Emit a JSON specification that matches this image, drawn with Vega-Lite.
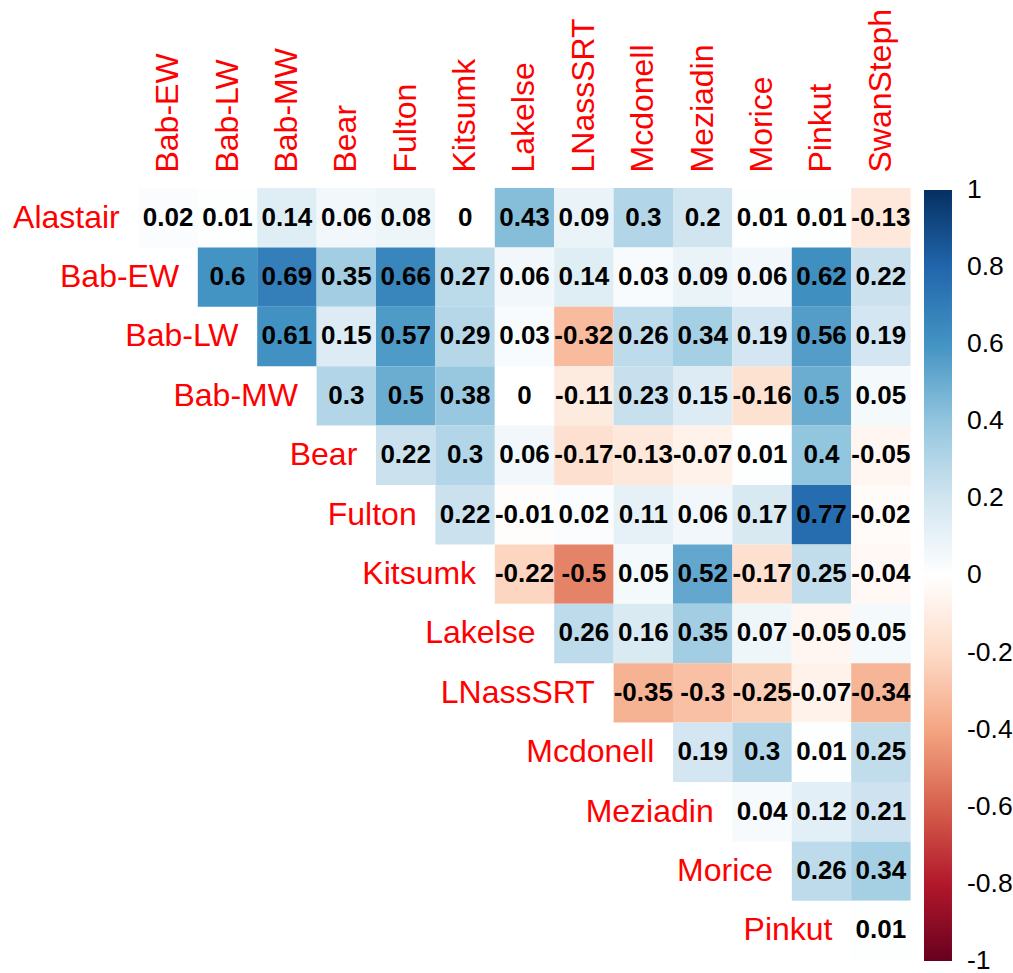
{
  "$schema": "https://vega.github.io/schema/vega-lite/v6.json",
  "width": 831.6,
  "height": 772.2,
  "autosize": {"type": "none"},
  "padding": {"left": 79, "top": 188, "right": 102, "bottom": 13},
  "background": "white",
  "config": {
    "view": {"stroke": null},
    "font": "Liberation Sans",
    "axisX": {
      "orient": "top", "title": null, "ticks": false, "domain": false, "grid": false,
      "labelAngle": -90, "labelAlign": "left", "labelBaseline": "middle",
      "labelFontSize": 32, "labelColor": "#FF0000", "labelPadding": 16,
      "labelLimit": 400, "labelOverlap": false
    }
  },
  "datasets": {
    "cells": [
      {"row": "Alastair", "col": "Bab-EW", "r": 0.02},
      {"row": "Alastair", "col": "Bab-LW", "r": 0.01},
      {"row": "Alastair", "col": "Bab-MW", "r": 0.14},
      {"row": "Alastair", "col": "Bear", "r": 0.06},
      {"row": "Alastair", "col": "Fulton", "r": 0.08},
      {"row": "Alastair", "col": "Kitsumk", "r": 0},
      {"row": "Alastair", "col": "Lakelse", "r": 0.43},
      {"row": "Alastair", "col": "LNassSRT", "r": 0.09},
      {"row": "Alastair", "col": "Mcdonell", "r": 0.3},
      {"row": "Alastair", "col": "Meziadin", "r": 0.2},
      {"row": "Alastair", "col": "Morice", "r": 0.01},
      {"row": "Alastair", "col": "Pinkut", "r": 0.01},
      {"row": "Alastair", "col": "SwanSteph", "r": -0.13},
      {"row": "Bab-EW", "col": "Bab-LW", "r": 0.6},
      {"row": "Bab-EW", "col": "Bab-MW", "r": 0.69},
      {"row": "Bab-EW", "col": "Bear", "r": 0.35},
      {"row": "Bab-EW", "col": "Fulton", "r": 0.66},
      {"row": "Bab-EW", "col": "Kitsumk", "r": 0.27},
      {"row": "Bab-EW", "col": "Lakelse", "r": 0.06},
      {"row": "Bab-EW", "col": "LNassSRT", "r": 0.14},
      {"row": "Bab-EW", "col": "Mcdonell", "r": 0.03},
      {"row": "Bab-EW", "col": "Meziadin", "r": 0.09},
      {"row": "Bab-EW", "col": "Morice", "r": 0.06},
      {"row": "Bab-EW", "col": "Pinkut", "r": 0.62},
      {"row": "Bab-EW", "col": "SwanSteph", "r": 0.22},
      {"row": "Bab-LW", "col": "Bab-MW", "r": 0.61},
      {"row": "Bab-LW", "col": "Bear", "r": 0.15},
      {"row": "Bab-LW", "col": "Fulton", "r": 0.57},
      {"row": "Bab-LW", "col": "Kitsumk", "r": 0.29},
      {"row": "Bab-LW", "col": "Lakelse", "r": 0.03},
      {"row": "Bab-LW", "col": "LNassSRT", "r": -0.32},
      {"row": "Bab-LW", "col": "Mcdonell", "r": 0.26},
      {"row": "Bab-LW", "col": "Meziadin", "r": 0.34},
      {"row": "Bab-LW", "col": "Morice", "r": 0.19},
      {"row": "Bab-LW", "col": "Pinkut", "r": 0.56},
      {"row": "Bab-LW", "col": "SwanSteph", "r": 0.19},
      {"row": "Bab-MW", "col": "Bear", "r": 0.3},
      {"row": "Bab-MW", "col": "Fulton", "r": 0.5},
      {"row": "Bab-MW", "col": "Kitsumk", "r": 0.38},
      {"row": "Bab-MW", "col": "Lakelse", "r": 0},
      {"row": "Bab-MW", "col": "LNassSRT", "r": -0.11},
      {"row": "Bab-MW", "col": "Mcdonell", "r": 0.23},
      {"row": "Bab-MW", "col": "Meziadin", "r": 0.15},
      {"row": "Bab-MW", "col": "Morice", "r": -0.16},
      {"row": "Bab-MW", "col": "Pinkut", "r": 0.5},
      {"row": "Bab-MW", "col": "SwanSteph", "r": 0.05},
      {"row": "Bear", "col": "Fulton", "r": 0.22},
      {"row": "Bear", "col": "Kitsumk", "r": 0.3},
      {"row": "Bear", "col": "Lakelse", "r": 0.06},
      {"row": "Bear", "col": "LNassSRT", "r": -0.17},
      {"row": "Bear", "col": "Mcdonell", "r": -0.13},
      {"row": "Bear", "col": "Meziadin", "r": -0.07},
      {"row": "Bear", "col": "Morice", "r": 0.01},
      {"row": "Bear", "col": "Pinkut", "r": 0.4},
      {"row": "Bear", "col": "SwanSteph", "r": -0.05},
      {"row": "Fulton", "col": "Kitsumk", "r": 0.22},
      {"row": "Fulton", "col": "Lakelse", "r": -0.01},
      {"row": "Fulton", "col": "LNassSRT", "r": 0.02},
      {"row": "Fulton", "col": "Mcdonell", "r": 0.11},
      {"row": "Fulton", "col": "Meziadin", "r": 0.06},
      {"row": "Fulton", "col": "Morice", "r": 0.17},
      {"row": "Fulton", "col": "Pinkut", "r": 0.77},
      {"row": "Fulton", "col": "SwanSteph", "r": -0.02},
      {"row": "Kitsumk", "col": "Lakelse", "r": -0.22},
      {"row": "Kitsumk", "col": "LNassSRT", "r": -0.5},
      {"row": "Kitsumk", "col": "Mcdonell", "r": 0.05},
      {"row": "Kitsumk", "col": "Meziadin", "r": 0.52},
      {"row": "Kitsumk", "col": "Morice", "r": -0.17},
      {"row": "Kitsumk", "col": "Pinkut", "r": 0.25},
      {"row": "Kitsumk", "col": "SwanSteph", "r": -0.04},
      {"row": "Lakelse", "col": "LNassSRT", "r": 0.26},
      {"row": "Lakelse", "col": "Mcdonell", "r": 0.16},
      {"row": "Lakelse", "col": "Meziadin", "r": 0.35},
      {"row": "Lakelse", "col": "Morice", "r": 0.07},
      {"row": "Lakelse", "col": "Pinkut", "r": -0.05},
      {"row": "Lakelse", "col": "SwanSteph", "r": 0.05},
      {"row": "LNassSRT", "col": "Mcdonell", "r": -0.35},
      {"row": "LNassSRT", "col": "Meziadin", "r": -0.3},
      {"row": "LNassSRT", "col": "Morice", "r": -0.25},
      {"row": "LNassSRT", "col": "Pinkut", "r": -0.07},
      {"row": "LNassSRT", "col": "SwanSteph", "r": -0.34},
      {"row": "Mcdonell", "col": "Meziadin", "r": 0.19},
      {"row": "Mcdonell", "col": "Morice", "r": 0.3},
      {"row": "Mcdonell", "col": "Pinkut", "r": 0.01},
      {"row": "Mcdonell", "col": "SwanSteph", "r": 0.25},
      {"row": "Meziadin", "col": "Morice", "r": 0.04},
      {"row": "Meziadin", "col": "Pinkut", "r": 0.12},
      {"row": "Meziadin", "col": "SwanSteph", "r": 0.21},
      {"row": "Morice", "col": "Pinkut", "r": 0.26},
      {"row": "Morice", "col": "SwanSteph", "r": 0.34},
      {"row": "Pinkut", "col": "SwanSteph", "r": 0.01}
    ],
    "names": [
      {"name": "Alastair"}, {"name": "Bab-EW"}, {"name": "Bab-LW"}, {"name": "Bab-MW"},
      {"name": "Bear"}, {"name": "Fulton"}, {"name": "Kitsumk"}, {"name": "Lakelse"},
      {"name": "LNassSRT"}, {"name": "Mcdonell"}, {"name": "Meziadin"}, {"name": "Morice"},
      {"name": "Pinkut"}
    ]
  },
  "layer": [
    {
      "data": {"name": "cells"},
      "mark": {"type": "rect"},
      "encoding": {
        "x": {
          "field": "col", "type": "nominal",
          "scale": {
            "domain": ["Alastair", "Bab-EW", "Bab-LW", "Bab-MW", "Bear", "Fulton", "Kitsumk", "Lakelse", "LNassSRT", "Mcdonell", "Meziadin", "Morice", "Pinkut", "SwanSteph"],
            "paddingInner": 0, "paddingOuter": 0
          },
          "axis": {
            "title": null,
            "labelExpr": "datum.value == 'Alastair' ? '' : datum.value"
          }
        },
        "y": {
          "field": "row", "type": "nominal",
          "scale": {
            "domain": ["Alastair", "Bab-EW", "Bab-LW", "Bab-MW", "Bear", "Fulton", "Kitsumk", "Lakelse", "LNassSRT", "Mcdonell", "Meziadin", "Morice", "Pinkut"],
            "paddingInner": 0, "paddingOuter": 0
          },
          "axis": null
        },
        "color": {
          "field": "r", "type": "quantitative",
          "scale": {
            "domain": [-1, -0.8, -0.6, -0.4, -0.2, 0, 0.2, 0.4, 0.6, 0.8, 1],
            "range": ["#67001F", "#B2182B", "#D6604D", "#F4A582", "#FDDBC7", "#FFFFFF", "#D1E5F0", "#92C5DE", "#4393C3", "#2166AC", "#053061"],
            "interpolate": "rgb"
          },
          "legend": {
            "orient": "none", "legendX": 845, "legendY": 2, "direction": "vertical",
            "title": null, "padding": 0,
            "gradientLength": 771, "gradientThickness": 28, "gradientStrokeWidth": 0,
            "values": [-1, -0.8, -0.6, -0.4, -0.2, 0, 0.2, 0.4, 0.6, 0.8, 1],
            "labelFontSize": 26.5, "labelColor": "#000000", "labelOffset": 15,
            "labelOverlap": false, "labelBaseline": "middle",
            "labelExpr": "replace(format(datum.value, '.1~f'), '\u2212', '-')",
            "encode": {"labels": {"update": {"baseline": {"value": "middle"}}}}
          }
        }
      }
    },
    {
      "data": {"name": "cells"},
      "mark": {"type": "text", "fontSize": 26, "fontWeight": "bold", "color": "#000000", "align": "center", "baseline": "middle"},
      "encoding": {
        "x": {"field": "col", "type": "nominal", "axis": {"title": null, "labelExpr": "datum.value == 'Alastair' ? '' : datum.value"}},
        "y": {"field": "row", "type": "nominal", "axis": null},
        "text": {"field": "r", "type": "nominal"}
      }
    },
    {
      "data": {"name": "names"},
      "mark": {"type": "text", "fontSize": 32, "color": "#FF0000", "align": "right", "baseline": "middle", "dx": 11},
      "encoding": {
        "x": {"field": "name", "type": "nominal", "axis": {"title": null, "labelExpr": "datum.value == 'Alastair' ? '' : datum.value"}},
        "y": {"field": "name", "type": "nominal", "axis": null},
        "text": {"field": "name", "type": "nominal"}
      }
    }
  ]
}
